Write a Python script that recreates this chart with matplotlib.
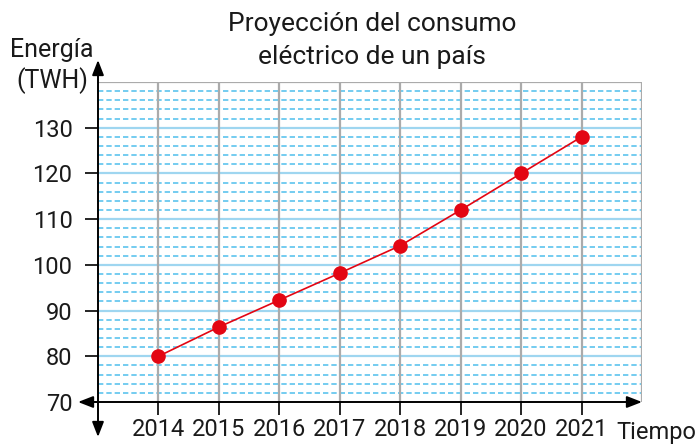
import matplotlib
matplotlib.use("Agg")
import matplotlib.pyplot as plt
import numpy as np

years = [2014, 2015, 2016, 2017, 2018, 2019, 2020, 2021]
energy = [80, 86.4, 92.3, 98.2, 104.2, 112, 120, 128]
y_ticks = [70, 80, 90, 100, 110, 120, 130]
title_lines = ['Proyección del consumo', 'eléctrico de un país']
y_label_lines = ['Energía', '(TWH)']
x_label = 'Tiempo'

plt.rcParams['font.family'] = ['Roboto', 'DejaVu Sans']
TXT = '#1a1a1a'

W, H = 698, 444
fig = plt.figure(figsize=(W / 100, H / 100), dpi=100)
ax = fig.add_axes([98 / W, 1 - 402 / H, (642 - 98) / W, (402 - 82) / H])
ax.set_xlim(2013, 2022)
ax.set_ylim(70, 140)

# background grid: solid every 10, dashed every 2
for v in np.arange(72, 140, 2):
    if v % 10 == 0:
        ax.axhline(v, color='#9fd6f0', lw=1.6, zorder=1)
    else:
        ax.axhline(v, color='#5cc3ee', lw=1.2, ls=(0, (3.2, 1.8)), zorder=1)
for yr in years:
    ax.axvline(yr, color='#ababab', lw=1.6, zorder=2)
ax.axhline(140, color='#ababab', lw=1.6, zorder=2)
ax.axvline(2022, color='#ababab', lw=1.6, zorder=2)

# data series
ax.plot(years, energy, color='#e30613', lw=1.2, marker='o', ms=9.5,
        markeredgecolor='#e30613', zorder=5)

for s in ax.spines.values():
    s.set_visible(False)

ax.set_xticks(years)
ax.set_xticklabels([str(y) for y in years])
ax.set_yticks(y_ticks)
ax.tick_params(axis='both', length=9.4, width=1.2, color='black', labelsize=17,
               labelcolor=TXT)
ax.tick_params(axis='x', pad=2)
ax.tick_params(axis='y', pad=9)

# axes with arrows (axes-fraction coords)
arrow = dict(arrowstyle='-|>,head_length=0.9,head_width=0.35', color='black',
             lw=1.4, shrinkA=0, shrinkB=0)
for tip in [(1.0, 0), (-20 / 544, 0), (0, 1 + 22 / 320), (0, -35 / 320)]:
    ax.annotate('', xy=tip, xytext=(0, 0), xycoords='axes fraction',
                textcoords='axes fraction', arrowprops=arrow,
                annotation_clip=False)

# title
for line, base in zip(title_lines, [31, 64]):
    fig.text(372 / W, 1 - base / H, line, ha='center', va='baseline',
             fontsize=19, color=TXT)

# axis names
for line, base in zip(y_label_lines, [57, 88]):
    fig.text(52 / W, 1 - base / H, line, ha='center', va='baseline',
             fontsize=18, color=TXT)
fig.text(696 / W, 1 - 439 / H, x_label, ha='right', va='baseline',
         fontsize=17, color=TXT)

fig.savefig('out.png', dpi=100)
